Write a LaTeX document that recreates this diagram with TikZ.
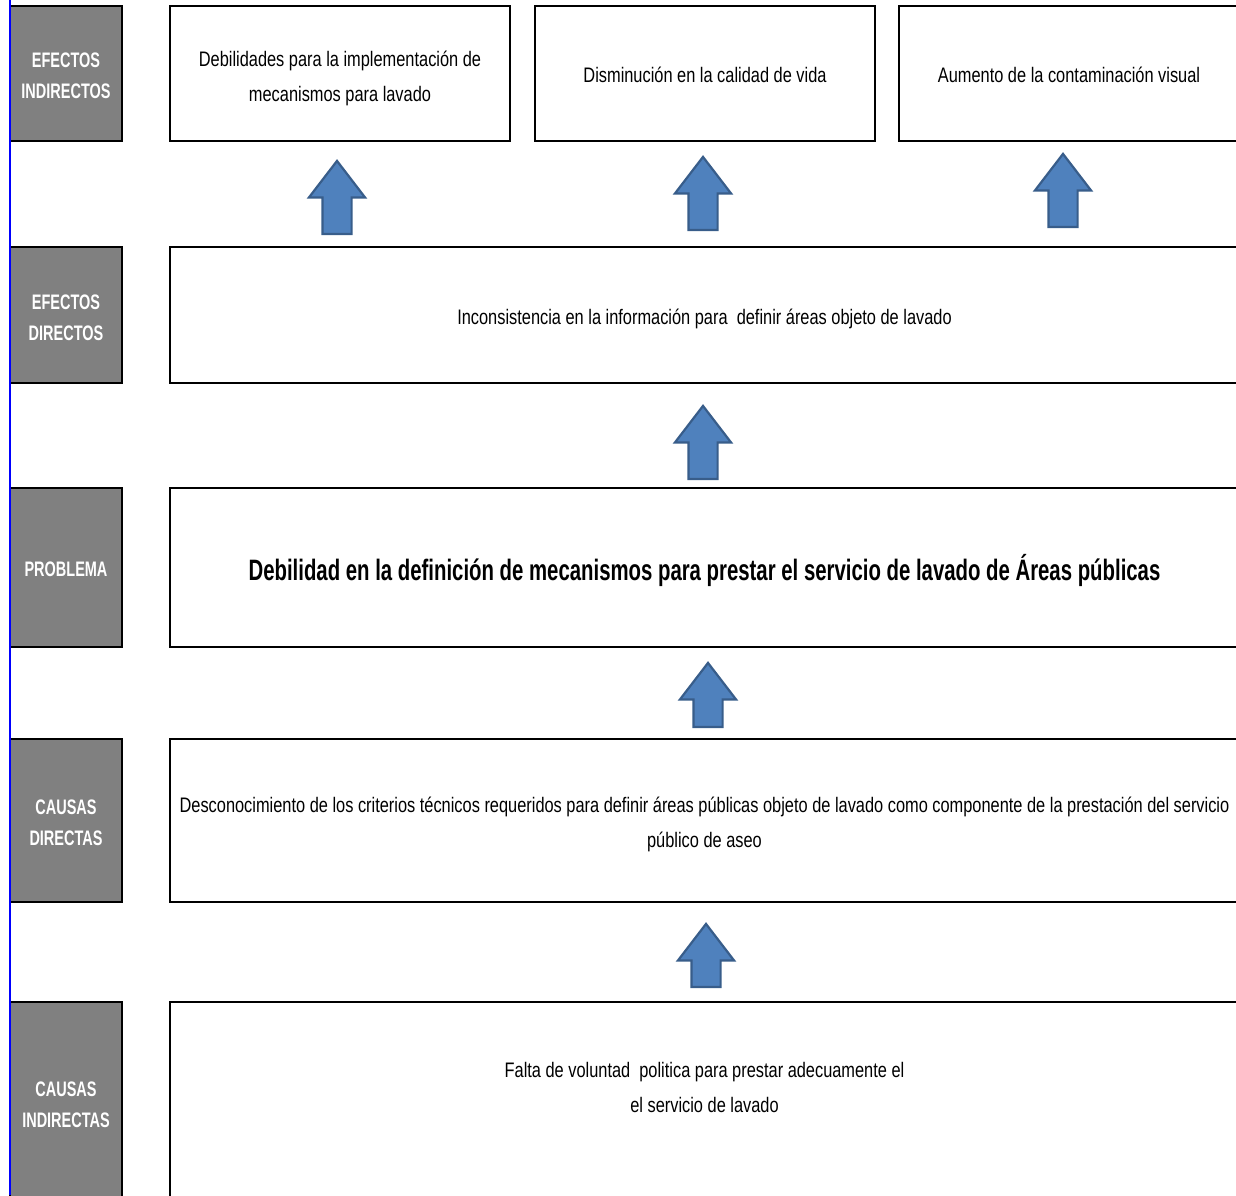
\documentclass[tikz,border=0pt]{standalone}
\usepackage{fontspec}
\setmainfont{Liberation Sans}[FakeStretch=0.78,BoldFeatures={FakeStretch=0.69}]
\usetikzlibrary{shapes.arrows}
\definecolor{labelgray}{RGB}{128,128,128}
\definecolor{arrowblue}{RGB}{79,129,189}
\definecolor{arrowedge}{RGB}{56,93,138}
\begin{document}
\begin{tikzpicture}
    [
    x=0.5pt,y=-0.5pt,
    tag/.style={rectangle,draw=black,fill=labelgray,line width=1.4pt,minimum width=56pt,inner sep=0pt},
    tagtext/.style={text=white,font=\fontsize{10.5}{15.5}\selectfont\bfseries,align=center,inner sep=0pt},
    effectbox/.style={rectangle,draw=black,line width=1.4pt,inner sep=0pt},
    boxtext/.style={align=center,font=\fontsize{10.5}{17.5}\selectfont,inner sep=0pt},
    uparrow/.style={single arrow,rotate=90,anchor=tail,draw=arrowedge,fill=arrowblue,line width=1.1pt,minimum width=27pt,single arrow head extend=6.75pt,single arrow tip angle=75,inner xsep=0pt,inner ysep=6.75pt}
    ]
    \useasboundingbox (0,0) rectangle (1236,1195);
    % labels on the left
    \node (ei) at (66,73.5) [tag, minimum height=67.5pt, label={[tagtext,yshift=-1.25pt]center:{EFECTOS\\INDIRECTOS}}] {};
    \node (ed) at (66,315) [tag, minimum height=68pt, label={[tagtext,yshift=-1.5pt]center:{EFECTOS\\DIRECTOS}}] {};
    \node (pr) at (66,567.5) [tag, minimum height=79.5pt, label={[tagtext,yshift=-1pt]center:{PROBLEMA}}] {};
    \node (cd) at (66,820.5) [tag, minimum height=81.5pt, label={[tagtext,yshift=-1pt]center:{CAUSAS\\DIRECTAS}}] {};
    \node (ci) at (66,1101) [tag, minimum height=99pt, label={[tagtext,yshift=-2pt]center:{CAUSAS\\INDIRECTAS}}] {};
    \draw [blue, line width=1pt] (10,0) -- (10,1195);
    % effects
    \node (e1) at (340,73.5) [effectbox, minimum width=170pt, minimum height=67.5pt, label={[boxtext,yshift=-2.5pt]center:{Debilidades para la implementación de\\mecanismos para lavado}}] {};
    \node (e2) at (705,73.5) [effectbox, minimum width=170pt, minimum height=67.5pt, label={[boxtext,yshift=-0.5pt]center:{Disminución en la calidad de vida}}] {};
    \node (e3) at (1069,73.5) [effectbox, minimum width=170pt, minimum height=67.5pt, label={[boxtext,yshift=-0.5pt]center:{Aumento de la contaminación visual}}] {};
    \node (d) at (704.5,315) [effectbox, minimum width=534.5pt, minimum height=68pt, label={[boxtext,yshift=-2pt]center:{Inconsistencia en la información para~ definir áreas objeto de lavado}}] {};
    % problem
    \node (p) at (704.5,567.5) [effectbox, minimum width=534.5pt, minimum height=79.5pt, label={[boxtext,yshift=-1.5pt,font=\fontsize{14.75}{18}\selectfont\bfseries]center:{Debilidad en la definición de mecanismos para prestar el servicio de lavado de Áreas públicas}}] {};
    % causes
    \node (c) at (704.5,820.5) [effectbox, minimum width=534.5pt, minimum height=81.5pt, label={[boxtext,yshift=-2pt]center:{Desconocimiento de los criterios técnicos requeridos para definir áreas públicas objeto de lavado como componente de la prestación del servicio\\público de aseo}}] {};
    \node (ic) at (704.5,1101) [effectbox, minimum width=534.5pt, minimum height=99pt, label={[boxtext,yshift=6.75pt]center:{Falta de voluntad~ politica para prestar adecuamente el\\el servicio de lavado}}] {};
    % arrows
    \node (a1) at (337,235) [uparrow, minimum height=36.5pt] {};
    \node (a2) at (703,231) [uparrow, minimum height=36.5pt] {};
    \node (a3) at (1063,228) [uparrow, minimum height=36.5pt] {};
    \node (a4) at (703,480) [uparrow, minimum height=36.5pt] {};
    \node (a5) at (708,728) [uparrow, minimum height=32pt] {};
    \node (a6) at (706,988) [uparrow, minimum height=31.5pt] {};
\end{tikzpicture}
\end{document}
